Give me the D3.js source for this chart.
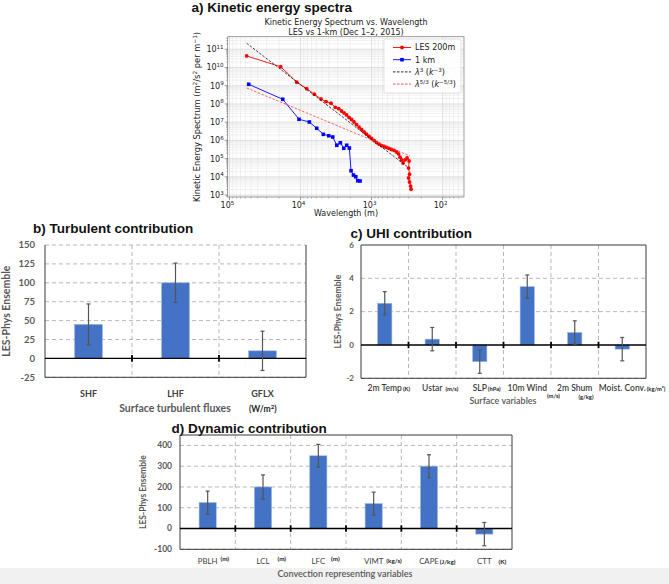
<!DOCTYPE html>
<html>
<head>
<meta charset="utf-8">
<script src="https://cdn.jsdelivr.net/npm/d3@7"></script>
<style>
body{margin:0;background:#fff}
svg{display:block}
</style>
</head>
<body>
<svg id="fig" width="669" height="584"></svg>
<script>
// ---- panel a: kinetic energy spectra (wavelength in m, spectrum in m^2/s^2 per m^-1)
var lesWavelength = [57300, 19000, 11300, 8180, 6390, 5140, 4370, 3720, 3240, 2900, 2650, 2440, 2250, 2075, 1910, 1765, 1627, 1500, 1383, 1275, 1176, 1084, 1000, 922, 850, 784, 723, 667, 615, 567, 523, 482, 445, 417, 397, 378, 360, 338, 316, 296, 301, 292, 301, 292, 282, 278];
var lesSpectrum = [4.3e10, 1.1e10, 1.55e9, 6.9e8, 3.4e8, 1.87e8, 1.33e8, 1.09e8, 6.5e7, 5.5e7, 4.1e7, 3.2e7, 2.5e7, 1.8e7, 1.4e7, 1.02e7, 7.4e6, 5.4e6, 3.95e6, 2.9e6, 2.2e6, 1.63e6, 1.27e6, 9.8e5, 7.6e5, 6.3e5, 5.2e5, 4.6e5, 4.1e5, 3.6e5, 3.15e5, 2.8e5, 2.3e5, 1.8e5, 1.2e5, 8.4e4, 5.7e4, 8.4e4, 1.08e5, 7.4e4, 3.0e4, 1.4e4, 8.6e3, 5.2e3, 3.1e3, 2.1e3];
var kmWavelength = [53700, 17800, 10500, 7520, 5920, 4780, 4010, 3520, 3090, 2750, 2460, 2240, 2055, 1945, 1800, 1670, 1565, 1452];
var kmSpectrum = [1.2e9, 1.8e8, 1.44e7, 1.02e7, 4.6e6, 2.15e6, 1.8e6, 1.53e6, 5.4e5, 7.4e5, 3.7e5, 5.4e5, 3.8e5, 2.16e4, 1.25e4, 1.01e4, 6.1e3, 5.9e3];
var slope3Wavelength = [57300, 303];
var slope3Spectrum = [2.14e11, 3.2e4];
var slope53Wavelength = [57300, 287];
var slope53Spectrum = [7.5e8, 1.39e5];

// ---- panel b: turbulent contribution
var turbCategories = ["SHF", "LHF", "GFLX"];
var turbValues = [45, 100, 10];
var turbErrors = [27, 26, 26];

// ---- panel c: UHI contribution
var uhiCategories = ["2m Temp", "Ustar", "SLP", "10m Wind", "2m Shum", "Moist. Conv."];
var uhiUnits = ["(K)", "(m/s)", "(hPa)", "(m/s)", "(g/kg)", "(kg/m\u00b2)"];
var uhiValues = [2.5, 0.35, -1.0, 3.5, 0.75, -0.25];
var uhiErrors = [0.7, 0.7, 0.7, 0.7, 0.7, 0.7];

// ---- panel d: dynamic contribution
var dynCategories = ["PBLH", "LCL", "LFC", "VIMT", "CAPE", "CTT"];
var dynUnits = ["(m)", "(m)", "(m)", "(kg/s)", "(J/kg)", "(K)"];
var dynValues = [125, 200, 350, 120, 300, -27];
var dynErrors = [55, 58, 55, 55, 55, 56];

var svg = d3.select("#fig");
svg.append("rect").attr("width", 669).attr("height", 584).attr("fill", "#fff");
svg.append("rect").attr("x", 0).attr("y", 568).attr("width", 669).attr("height", 16).attr("fill", "#f1f1f1");

var titleFont = "'Liberation Sans', Arial, sans-serif";
var mplFont = "'DejaVu Sans', sans-serif";
var xlFont = "Lato, 'Open Sans', sans-serif";

//Panel titles
var titles = [["a) Kinetic energy spectra", 191.5, 12], ["b) Turbulent contribution", 33, 233], ["c) UHI contribution", 350.5, 237.5], ["d) Dynamic contribution", 171.5, 433]];
svg.selectAll(".ptitle").data(titles).enter().append("text")
  .attr("x", d => d[1]).attr("y", d => d[2]).text(d => d[0])
  .style("font-family", titleFont).style("font-weight", "bold").style("font-size", "13.5px").attr("fill", "#111");

// ================= panel a =================
var A = {left: 227.7, right: 464, top: 36.7, bottom: 197};
var xA = d3.scaleLog().domain([1.06e5, 50]).range([A.left, A.right]);
var yA = d3.scaleLog().domain([7.8e2, 4.9e11]).range([A.bottom, A.top]);
var ga = svg.append("g");

svg.append("clipPath").attr("id", "clipA").append("rect")
  .attr("x", A.left).attr("y", A.top).attr("width", A.right - A.left).attr("height", A.bottom - A.top);

var xMajor = [1e5, 1e4, 1e3, 1e2];
var yMajor = d3.range(3, 12).map(e => Math.pow(10, e));
var xMinor = [], yMinor = [];
for (var e = 1; e <= 5; e++) for (var m = 2; m <= 9; m++) {
  var v = m * Math.pow(10, e);
  if (v < 1.06e5 && v > 50) xMinor.push(v);
}
for (var e2 = 2; e2 <= 11; e2++) for (var m2 = 2; m2 <= 9; m2++) {
  var w = m2 * Math.pow(10, e2);
  if (w > 7.8e2 && w < 4.9e11) yMinor.push(w);
}
var grid = ga.append("g").attr("clip-path", "url(#clipA)");
grid.selectAll(".xmin").data(xMinor).enter().append("line")
  .attr("x1", d => xA(d)).attr("x2", d => xA(d)).attr("y1", A.top).attr("y2", A.bottom)
  .attr("stroke", "#e3e3e3").attr("stroke-width", 0.5);
grid.selectAll(".ymin").data(yMinor).enter().append("line")
  .attr("y1", d => yA(d)).attr("y2", d => yA(d)).attr("x1", A.left).attr("x2", A.right)
  .attr("stroke", "#e3e3e3").attr("stroke-width", 0.5);
grid.selectAll(".xmaj").data(xMajor).enter().append("line")
  .attr("x1", d => xA(d)).attr("x2", d => xA(d)).attr("y1", A.top).attr("y2", A.bottom)
  .attr("stroke", "#cfcfcf").attr("stroke-width", 0.6);
grid.selectAll(".ymaj").data(yMajor).enter().append("line")
  .attr("y1", d => yA(d)).attr("y2", d => yA(d)).attr("x1", A.left).attr("x2", A.right)
  .attr("stroke", "#cfcfcf").attr("stroke-width", 0.6);

// spines + ticks
ga.append("rect").attr("x", A.left).attr("y", A.top).attr("width", A.right - A.left).attr("height", A.bottom - A.top)
  .attr("fill", "none").attr("stroke", "#777").attr("stroke-width", 0.7);
ga.selectAll(".xt").data(xMajor).enter().append("line")
  .attr("x1", d => xA(d)).attr("x2", d => xA(d)).attr("y1", A.bottom).attr("y2", A.bottom + 3)
  .attr("stroke", "#555").attr("stroke-width", 0.6);
ga.selectAll(".xtm").data(xMinor).enter().append("line")
  .attr("x1", d => xA(d)).attr("x2", d => xA(d)).attr("y1", A.bottom).attr("y2", A.bottom + 1.7)
  .attr("stroke", "#666").attr("stroke-width", 0.4);
ga.selectAll(".yt").data(yMajor).enter().append("line")
  .attr("y1", d => yA(d)).attr("y2", d => yA(d)).attr("x1", A.left - 3).attr("x2", A.left)
  .attr("stroke", "#555").attr("stroke-width", 0.6);
ga.selectAll(".ytm").data(yMinor).enter().append("line")
  .attr("y1", d => yA(d)).attr("y2", d => yA(d)).attr("x1", A.left - 1.7).attr("x2", A.left)
  .attr("stroke", "#666").attr("stroke-width", 0.4);

// tick labels as 10^n
function powLabel(sel) {
  sel.text("10").append("tspan").attr("dy", -3.5).style("font-size", "5.6px").text(d => Math.round(Math.log10(d)));
}
ga.selectAll(".xl").data(xMajor).enter().append("text")
  .attr("x", d => xA(d) - 2).attr("y", A.bottom + 11).attr("text-anchor", "middle")
  .style("font-family", mplFont).style("font-size", "8px").attr("fill", "#222").call(powLabel);
ga.selectAll(".yl").data(yMajor).enter().append("text")
  .attr("class", "ylab10").attr("y", d => yA(d) + 3)
  .style("font-family", mplFont).style("font-size", "8px").attr("fill", "#222").call(powLabel);
// right edge of each y label sits next to the tick
ga.selectAll(".ylab10").attr("x", function(){ return A.left - 4 - this.getComputedTextLength(); });

// axis labels / subtitle
ga.append("text").attr("x", 346).attr("y", 216).attr("text-anchor", "middle")
  .style("font-family", mplFont).style("font-size", "8px").attr("fill", "#222").text("Wavelength (m)");
var ylab = ga.append("text").attr("transform", "translate(200,117) rotate(-90)").attr("text-anchor", "middle")
  .style("font-family", mplFont).style("font-size", "8.3px").attr("fill", "#222");
ylab.append("tspan").text("Kinetic Energy Spectrum (m");
ylab.append("tspan").attr("dy", -3).style("font-size", "5.8px").text("2");
ylab.append("tspan").attr("dy", 3).text("/s");
ylab.append("tspan").attr("dy", -3).style("font-size", "5.8px").text("2");
ylab.append("tspan").attr("dy", 3).text(" per m");
ylab.append("tspan").attr("dy", -3).style("font-size", "5.8px").text("\u22121");
ylab.append("tspan").attr("dy", 3).text(")");
ga.append("text").attr("x", 346).attr("y", 25).attr("text-anchor", "middle")
  .style("font-family", mplFont).style("font-size", "8px").attr("fill", "#222").text("Kinetic Energy Spectrum vs. Wavelength");
ga.append("text").attr("x", 346).attr("y", 34.5).attr("text-anchor", "middle")
  .style("font-family", mplFont).style("font-size", "8px").attr("fill", "#222").text("LES vs 1-km (Dec 1\u20132, 2015)");

// series
var lineA = d3.line().x(d => xA(d[0])).y(d => yA(d[1]));
var plot = ga.append("g").attr("clip-path", "url(#clipA)");
plot.append("path").datum(d3.zip(lesWavelength, lesSpectrum)).attr("d", lineA)
  .attr("fill", "none").attr("stroke", "#ff0000").attr("stroke-width", 0.9);
plot.selectAll(".les").data(d3.zip(lesWavelength, lesSpectrum)).enter().append("circle")
  .attr("cx", d => xA(d[0])).attr("cy", d => yA(d[1])).attr("r", 1.9).attr("fill", "#ff0000");
plot.append("path").datum(d3.zip(kmWavelength, kmSpectrum)).attr("d", lineA)
  .attr("fill", "none").attr("stroke", "#0000ff").attr("stroke-width", 0.9);
plot.selectAll(".km").data(d3.zip(kmWavelength, kmSpectrum)).enter().append("rect")
  .attr("x", d => xA(d[0]) - 1.8).attr("y", d => yA(d[1]) - 1.8).attr("width", 3.6).attr("height", 3.6).attr("fill", "#0000ff");
plot.append("path").datum(d3.zip(slope3Wavelength, slope3Spectrum)).attr("d", lineA)
  .attr("fill", "none").attr("stroke", "#111").attr("stroke-width", 0.8).attr("stroke-dasharray", "2.5,1.5");
plot.append("path").datum(d3.zip(slope53Wavelength, slope53Spectrum)).attr("d", lineA)
  .attr("fill", "none").attr("stroke", "#ff4040").attr("stroke-width", 0.8).attr("stroke-dasharray", "2.5,1.5");

// legend
var leg = ga.append("g");
leg.append("rect").attr("x", 384).attr("y", 39).attr("width", 77).attr("height", 54).attr("rx", 2)
  .attr("fill", "#fff").attr("fill-opacity", 0.85).attr("stroke", "#d0d0d0").attr("stroke-width", 0.6);
var legItems = [
  {label: "LES 200m", color: "#ff0000", dash: null, mark: "circle"},
  {label: "1 km", color: "#0000ff", dash: null, mark: "square"},
  {label: "k3", color: "#111", dash: "2.5,1.5", mark: null},
  {label: "k53", color: "#ff4040", dash: "2.5,1.5", mark: null}
];
legItems.forEach(function(it, i) {
  var yy = 47.5 + i * 12.2;
  leg.append("line").attr("x1", 393).attr("x2", 411).attr("y1", yy).attr("y2", yy)
    .attr("stroke", it.color).attr("stroke-width", 0.9).attr("stroke-dasharray", it.dash);
  if (it.mark === "circle") leg.append("circle").attr("cx", 402).attr("cy", yy).attr("r", 1.9).attr("fill", it.color);
  if (it.mark === "square") leg.append("rect").attr("x", 400.2).attr("y", yy - 1.8).attr("width", 3.6).attr("height", 3.6).attr("fill", it.color);
  var t = leg.append("text").attr("x", 415).attr("y", yy + 2.8)
    .style("font-family", mplFont).style("font-size", "8px").attr("fill", "#222");
  if (it.label === "k3") {
    t.append("tspan").style("font-style", "italic").text("\u03bb");
    t.append("tspan").attr("dy", -3).style("font-size", "5.6px").text("3");
    t.append("tspan").attr("dy", 3).text(" (");
    t.append("tspan").style("font-style", "italic").text("k");
    t.append("tspan").attr("dy", -3).style("font-size", "5.6px").text("\u22123");
    t.append("tspan").attr("dy", 3).text(")");
  } else if (it.label === "k53") {
    t.append("tspan").style("font-style", "italic").text("\u03bb");
    t.append("tspan").attr("dy", -3).style("font-size", "5.6px").text("5/3");
    t.append("tspan").attr("dy", 3).text(" (");
    t.append("tspan").style("font-style", "italic").text("k");
    t.append("tspan").attr("dy", -3).style("font-size", "5.6px").text("\u22125/3");
    t.append("tspan").attr("dy", 3).text(")");
  } else {
    t.text(it.label);
  }
});

// ================= bar panels =================
var barPanel = function(p) {
  var g = svg.append("g");
  var xb = d3.scaleBand().domain(p.categories).range([p.left, p.right]).paddingInner(p.pad).paddingOuter(p.pad / 2);
  var yb = d3.scaleLinear().domain(p.domain).range([p.bottom, p.top]);
  var gap = xb.step() - xb.bandwidth();
  var bounds = p.categories.slice(1).map(c => xb(c) - gap / 2);
  var dash = "4,3";

  // gridlines
  g.selectAll(".hg").data(p.ticks.filter(t => t !== 0 && yb(t) > p.top + 0.5)).enter().append("line")
    .attr("x1", p.left).attr("x2", p.right).attr("y1", d => yb(d)).attr("y2", d => yb(d))
    .attr("stroke", "#a6a6a6").attr("stroke-width", 0.8).attr("stroke-dasharray", dash);
  g.selectAll(".vg").data(bounds).enter().append("line")
    .attr("x1", d => d).attr("x2", d => d).attr("y1", p.top).attr("y2", p.bottom)
    .attr("stroke", "#a6a6a6").attr("stroke-width", 0.8).attr("stroke-dasharray", dash);
  if (!p.topSolid) g.append("line").attr("x1", p.left).attr("x2", p.right).attr("y1", p.top).attr("y2", p.top)
    .attr("stroke", "#a6a6a6").attr("stroke-width", 0.8).attr("stroke-dasharray", dash);

  // frame
  var fr = g.append("g").attr("stroke", "#3a3a3a").attr("stroke-width", 1);
  fr.append("line").attr("x1", p.left).attr("x2", p.left).attr("y1", p.top).attr("y2", p.bottom);
  fr.append("line").attr("x1", p.right).attr("x2", p.right).attr("y1", p.top).attr("y2", p.bottom);
  fr.append("line").attr("x1", p.left).attr("x2", p.right).attr("y1", p.bottom).attr("y2", p.bottom);
  if (p.topSolid) fr.append("line").attr("x1", p.left).attr("x2", p.right).attr("y1", p.top).attr("y2", p.top);

  // bars
  g.selectAll(".bar").data(p.categories).enter().append("rect")
    .attr("x", d => xb(d)).attr("width", xb.bandwidth())
    .attr("y", (d, i) => Math.min(yb(p.values[i]), yb(0)))
    .attr("height", (d, i) => Math.abs(yb(p.values[i]) - yb(0)))
    .attr("fill", "#4472c4").attr("stroke", "#9fb6e0").attr("stroke-width", 0.6);

  // zero line with boundary ticks
  g.append("line").attr("x1", p.left).attr("x2", p.right).attr("y1", yb(0)).attr("y2", yb(0))
    .attr("stroke", "#000").attr("stroke-width", 1.4);
  g.selectAll(".zt").data(bounds).enter().append("line")
    .attr("x1", d => d).attr("x2", d => d).attr("y1", yb(0) - 3.3).attr("y2", yb(0) + 3.3)
    .attr("stroke", "#000").attr("stroke-width", 1.8);

  // error bars
  var eb = g.selectAll(".err").data(p.categories).enter().append("g").attr("stroke", "#555").attr("stroke-width", 1.2);
  eb.append("line").attr("x1", d => xb(d) + xb.bandwidth() / 2).attr("x2", d => xb(d) + xb.bandwidth() / 2)
    .attr("y1", (d, i) => yb(p.values[i] - p.errors[i])).attr("y2", (d, i) => yb(p.values[i] + p.errors[i]));
  [-1, 1].forEach(function(s) {
    eb.append("line").attr("x1", d => xb(d) + xb.bandwidth() / 2 - 2).attr("x2", d => xb(d) + xb.bandwidth() / 2 + 2)
      .attr("y1", (d, i) => yb(p.values[i] + s * p.errors[i])).attr("y2", (d, i) => yb(p.values[i] + s * p.errors[i]));
  });

  // y tick labels
  g.selectAll(".yl").data(p.ticks).enter().append("text")
    .attr("x", p.left - p.tickGap).attr("y", d => yb(d) + p.tickSize * 0.35).attr("text-anchor", "end")
    .style("font-family", xlFont).style("font-weight", p.tickWeight).style("font-size", p.tickSize + "px")
    .attr("fill", "#595959").text(d => d);

  // y label
  g.append("text").attr("transform", "translate(" + p.ylabX + "," + ((p.top + p.bottom) / 2) + ") rotate(-90)")
    .attr("text-anchor", "middle").style("font-family", xlFont).style("font-weight", "bold")
    .style("font-size", p.ylabSize + "px").attr("fill", "#595959").text("LES-Phys Ensemble");

  // category labels and units
  var labs = g.selectAll(".cl").data(p.categories).enter().append("text")
    .attr("x", d => xb(d) + xb.bandwidth() / 2).attr("y", p.catY).attr("text-anchor", "middle")
    .style("font-family", xlFont).style("font-weight", p.catWeight).style("font-size", p.catSize + "px")
    .attr("fill", "#404040").text(d => d);
  if (p.units) {
    labs.each(function(d, i) {
      var right = xb(d) + xb.bandwidth() / 2 + this.getComputedTextLength() / 2;
      g.append("text").attr("x", right + p.unitDx[i]).attr("y", p.catY + p.unitDy[i])
        .style("font-family", xlFont).style("font-weight", "bold").style("font-size", p.unitSize + "px")
        .attr("fill", "#222").text(p.units[i]);
    });
  }
  return g;
};

// b) Turbulent contribution
var gb = barPanel({
  categories: turbCategories, values: turbValues, errors: turbErrors,
  left: 45, right: 306, top: 245, bottom: 377.3, domain: [-25, 150], ticks: d3.range(-25, 151, 25),
  pad: 0.68, topSolid: false, tickGap: 10, tickSize: 9.5, tickWeight: "bold",
  ylabX: 10, ylabSize: 10.5, catY: 397, catSize: 9, catWeight: "bold"
});
gb.append("text").attr("x", 175).attr("y", 412).attr("text-anchor", "middle")
  .style("font-family", xlFont).style("font-weight", "bold").style("font-size", "10.5px").attr("fill", "#595959")
  .text("Surface turbulent fluxes");
var wm = gb.append("text").attr("x", 249).attr("y", 412)
  .style("font-family", xlFont).style("font-weight", "bold").style("font-size", "8.5px").attr("fill", "#222");
wm.append("tspan").text("(W/m");
wm.append("tspan").attr("dy", -3).style("font-size", "6px").text("2");
wm.append("tspan").attr("dy", 3).text(")");

// c) UHI contribution
var gc = barPanel({
  categories: uhiCategories, values: uhiValues, errors: uhiErrors, units: uhiUnits,
  unitDx: [1, 3, 1, 0, -14, 1], unitDy: [0, 0, 0, 7, 8, 0], unitSize: 5.8,
  left: 361, right: 646, top: 245, bottom: 378.3, domain: [-2, 6], ticks: [-2, 0, 2, 4, 6],
  pad: 0.7, topSolid: true, tickGap: 7, tickSize: 8, tickWeight: "bold",
  ylabX: 341, ylabSize: 8.5, catY: 390.5, catSize: 8.5, catWeight: "600"
});
gc.append("text").attr("x", 503).attr("y", 403.5).attr("text-anchor", "middle")
  .style("font-family", xlFont).style("font-weight", "600").style("font-size", "9px").attr("fill", "#595959")
  .text("Surface variables");

// d) Dynamic contribution
var gd = barPanel({
  categories: dynCategories, values: dynValues, errors: dynErrors, units: dynUnits,
  unitDx: [3, 8, 6, 3, 1, 7], unitDy: [-3, -3, -3, -1, 0, 0], unitSize: 6.3,
  left: 180, right: 512, top: 435, bottom: 549.3, domain: [-100, 450], ticks: d3.range(-100, 401, 100),
  pad: 0.69, topSolid: true, tickGap: 8, tickSize: 8.5, tickWeight: "bold",
  ylabX: 146, ylabSize: 8.5, catY: 563.5, catSize: 7.8, catWeight: "normal"
});
gd.append("text").attr("x", 345).attr("y", 577).attr("text-anchor", "middle")
  .style("font-family", xlFont).style("font-weight", "600").style("font-size", "9px").attr("fill", "#595959")
  .text("Convection representing variables");
</script>
</body>
</html>
